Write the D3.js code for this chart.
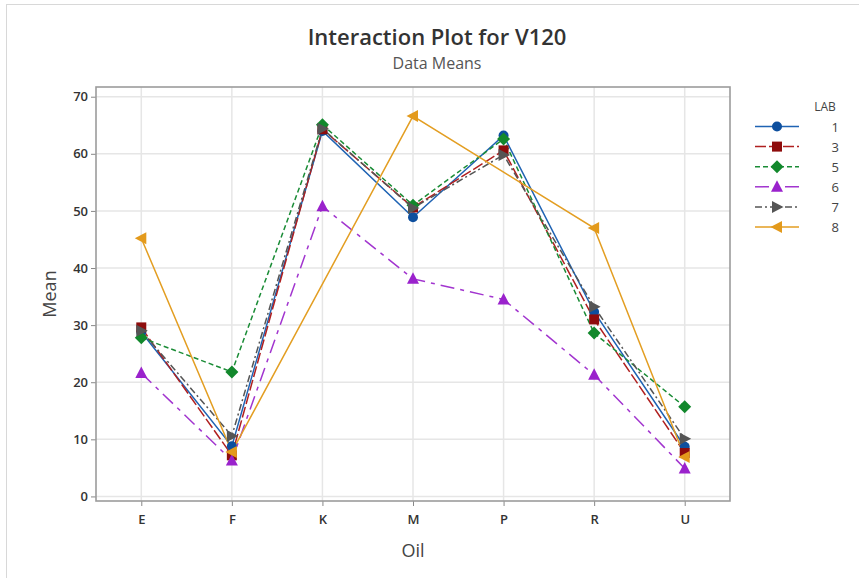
<!DOCTYPE html>
<html><head><meta charset="utf-8">
<script src="https://cdn.jsdelivr.net/npm/d3@7"></script>
<style>
body{margin:0;background:#fff;}
svg{display:block;font-family:"Open Sans","Noto Sans",sans-serif;}
</style></head>
<body><svg id="chart" width="859" height="578"></svg>
<script>
const categories = ["E","F","K","M","P","R","U"];
const labs = ["1","3","5","6","7","8"];
const lab1 = [28.8, 8.8, 64.0, 48.9, 63.2, 32.3, 8.7];
const lab3 = [29.6, 7.2, 64.3, 50.6, 60.6, 31.0, 7.6];
const lab5 = [27.8, 21.8, 65.1, 51.0, 62.6, 28.6, 15.7];
const lab6 = [21.6, 6.3, 50.8, 38.1, 34.5, 21.3, 4.9];
const lab7 = [29.0, 10.6, 64.4, 50.5, 59.8, 33.2, 10.1];
const lab8 = [45.2, 7.8, null, 66.6, null, 47.0, 6.9];
const seriesValues = [lab1, lab3, lab5, lab6, lab7, lab8];
const yTicks = [0,10,20,30,40,50,60,70];

const styles = [
  {color:"#1f63b3", mcolor:"#0d4f9e", dash:null, shape:"circle"},
  {color:"#b02020", mcolor:"#8e0c0c", dash:"11,3", shape:"square"},
  {color:"#1a8c36", mcolor:"#12882c", dash:"5,3", shape:"diamond"},
  {color:"#a235cf", mcolor:"#9a22cc", dash:"14,6,4,6", shape:"triUp"},
  {color:"#555555", mcolor:"#555555", dash:"7,3,2,3", shape:"triRight"},
  {color:"#e39e22", mcolor:"#e39a1c", dash:null, shape:"triLeft"}
];

const svg = d3.select("#chart");
const L = 96, R = 730, T = 87, B = 501;

// outer frame
svg.append("rect").attr("x",6.5).attr("y",4.5).attr("width",900).attr("height",600)
  .attr("fill","none").attr("stroke","#d8d8d8").attr("stroke-width",1);

const x = d3.scalePoint().domain(categories).range([L,R]).padding(0.5);
const y = d3.scaleLinear().domain([-0.8,71.7]).range([B,T]);

// gridlines
const grid = svg.append("g");
grid.selectAll("line.h").data(yTicks).join("line")
  .attr("x1",L).attr("x2",R).attr("y1",d=>y(d)).attr("y2",d=>y(d))
  .attr("stroke","#e6e6e6").attr("stroke-width",1.5);
grid.selectAll("line.v").data(categories).join("line")
  .attr("y1",T).attr("y2",B).attr("x1",d=>x(d)).attr("x2",d=>x(d))
  .attr("stroke","#e6e6e6").attr("stroke-width",1.5);

// axes
const yAxis = svg.append("g").attr("transform",`translate(${L},0)`)
  .call(d3.axisLeft(y).tickValues(yTicks).tickSize(5).tickPadding(3));
const xAxis = svg.append("g").attr("transform",`translate(0,${B})`)
  .call(d3.axisBottom(x).tickSize(5).tickPadding(9));
[yAxis,xAxis].forEach(a=>{
  a.select(".domain").remove();
  a.selectAll(".tick line").attr("stroke","#888");
  a.selectAll(".tick text").attr("fill","#333").attr("font-size",13).attr("font-weight",600)
   .attr("font-family","'Open Sans','Noto Sans',sans-serif");
});

// plot frame
svg.append("rect").attr("x",L).attr("y",T).attr("width",R-L).attr("height",B-T)
  .attr("fill","none").attr("stroke","#9c9c9c").attr("stroke-width",1.6);

function marker(g, shape, cx, cy, color){
  let p;
  if(shape==="circle") p = g.append("circle").attr("cx",cx).attr("cy",cy).attr("r",5);
  else if(shape==="square") p = g.append("rect").attr("x",cx-5).attr("y",cy-5).attr("width",10).attr("height",10);
  else {
    let pts;
    if(shape==="diamond") pts=[[0,-6.5],[6.5,0],[0,6.5],[-6.5,0]];
    else if(shape==="triUp") pts=[[0,-6.5],[6,5],[-6,5]];
    else if(shape==="triRight") pts=[[6.5,0],[-5,-6],[-5,6]];
    else pts=[[-6.5,0],[5,-6],[5,6]];
    p = g.append("polygon").attr("points",pts.map(q=>[cx+q[0],cy+q[1]].join(",")).join(" "));
  }
  p.attr("fill",color);
}

const line = d3.line().x(d=>x(d.cat)).y(d=>y(d.v));
const pointsOf = vals => vals.map((v,i)=>({cat:categories[i], v})).filter(d=>d.v!==null);
const plot = svg.append("g");
seriesValues.forEach((vals,si)=>{
  const st = styles[si];
  plot.append("path").datum(pointsOf(vals)).attr("d",line).attr("fill","none")
    .attr("stroke",st.color).attr("stroke-width",1.5)
    .attr("stroke-dasharray",st.dash);
});
seriesValues.forEach((vals,si)=>{
  const st = styles[si];
  const g = plot.append("g");
  pointsOf(vals).forEach(d=>marker(g, st.shape, x(d.cat), y(d.v), st.mcolor));
});

// titles
svg.append("text").attr("x",437).attr("y",45).attr("text-anchor","middle")
  .attr("font-size",22).attr("font-weight",600).attr("fill","#333").text("Interaction Plot for V120");
svg.append("text").attr("x",437).attr("y",69).attr("text-anchor","middle")
  .attr("font-size",16).attr("fill","#555").text("Data Means");
svg.append("text").attr("transform","translate(56,294) rotate(-90)").attr("text-anchor","middle")
  .attr("font-size",18).attr("fill","#444").text("Mean");
svg.append("text").attr("x",413).attr("y",557).attr("text-anchor","middle")
  .attr("font-size",18).attr("fill","#444").text("Oil");

// legend
const leg = svg.append("g");
leg.append("text").attr("x",825).attr("y",111).attr("text-anchor","middle")
  .attr("font-size",12).attr("fill","#444").text("LAB");
labs.forEach((lab,i)=>{
  const st = styles[i];
  const yy = 126.5 + i*20.1;
  leg.append("line").attr("x1",755).attr("x2",799).attr("y1",yy).attr("y2",yy)
    .attr("stroke",st.color).attr("stroke-width",1.5).attr("stroke-dasharray",st.dash);
  marker(leg, st.shape, 777, yy, st.mcolor);
  leg.append("text").attr("x",839).attr("y",yy+5).attr("text-anchor","end")
    .attr("font-size",13).attr("fill","#444").text(lab);
});
</script></body></html>
